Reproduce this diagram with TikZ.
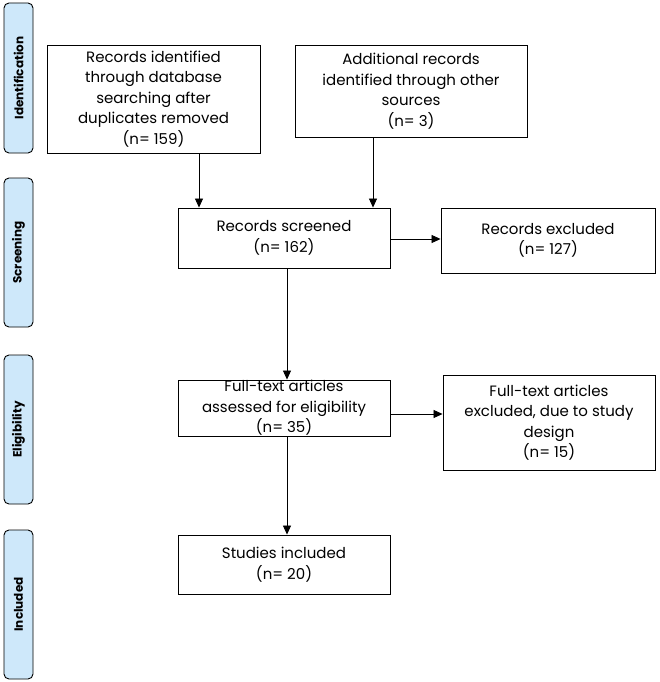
\documentclass[tikz,border=0pt]{standalone}
\usepackage{fontspec}
\setmainfont{Poppins}
\usetikzlibrary{arrows.meta}
\begin{document}
\begin{tikzpicture}[x=1pt,y=-1pt,
  box/.style={draw,line width=0.9pt,align=center,font=\fontsize{15}{20.5}\selectfont,inner sep=0pt},
  side/.style={draw,line width=0.9pt,rounded corners=5pt,inner sep=0pt},
  stxt/.style={rotate=90,font=\bfseries\fontsize{12}{14}\selectfont},
  arr/.style={line width=0.8pt,-{Triangle[length=9pt,width=8pt]}}]
\useasboundingbox (0,0) rectangle (660,682);
\fill[white] (0,0) rectangle (660,682);
\foreach \n/\t/\a/\b in {s1/Identification/3/153,s2/Screening/178/327,s3/Eligibility/355/504,s4/Included/530/679}{
  \draw[side,fill={rgb,255:red,206;green,232;blue,250}] (4,\a) rectangle (33,\b);
  \node[stxt] (\n) at (18.5,{(\a+\b)/2}) {\t};
}
\node[box,minimum width=213pt,minimum height=108pt] (A) at (153.5,99) {Records identified\\through database\\searching after\\duplicates removed\\(n= 159)};
\node[box,minimum width=232pt,minimum height=92pt] (B) at (411,91) {Additional records\\identified through other\\sources\\(n= 3)};
\node[box,minimum width=212pt,minimum height=60pt] (C) at (284,238) {Records screened\\(n= 162)};
\node[box,minimum width=214pt,minimum height=65pt] (D) at (548,240.5) {Records excluded\\(n= 127)};
\node[box,minimum width=212pt,minimum height=56pt] (E) at (284,408) {Full-text articles\\assessed for eligibility\\(n= 35)};
\node[box,minimum width=212pt,minimum height=95pt] (F) at (549,422.5) {Full-text articles\\excluded, due to study\\design\\(n= 15)};
\node[box,minimum width=212pt,minimum height=59pt] (G) at (284,564.5) {Studies included\\(n= 20)};
\draw[arr] (A.south -| 199,0) -- (C.north -| 199,0);
\draw[arr] (B.south -| 373,0) -- (C.north -| 373,0);
\draw[arr] (C.east |- 0,239) -- (D.west |- 0,239);
\draw[arr] (C.south -| 287,0) -- (E.north -| 287,0);
\draw[arr] (E.east |- 0,414) -- (F.west |- 0,414);
\draw[arr] (E.south -| 287,0) -- (G.north -| 287,0);
\end{tikzpicture}
\end{document}
